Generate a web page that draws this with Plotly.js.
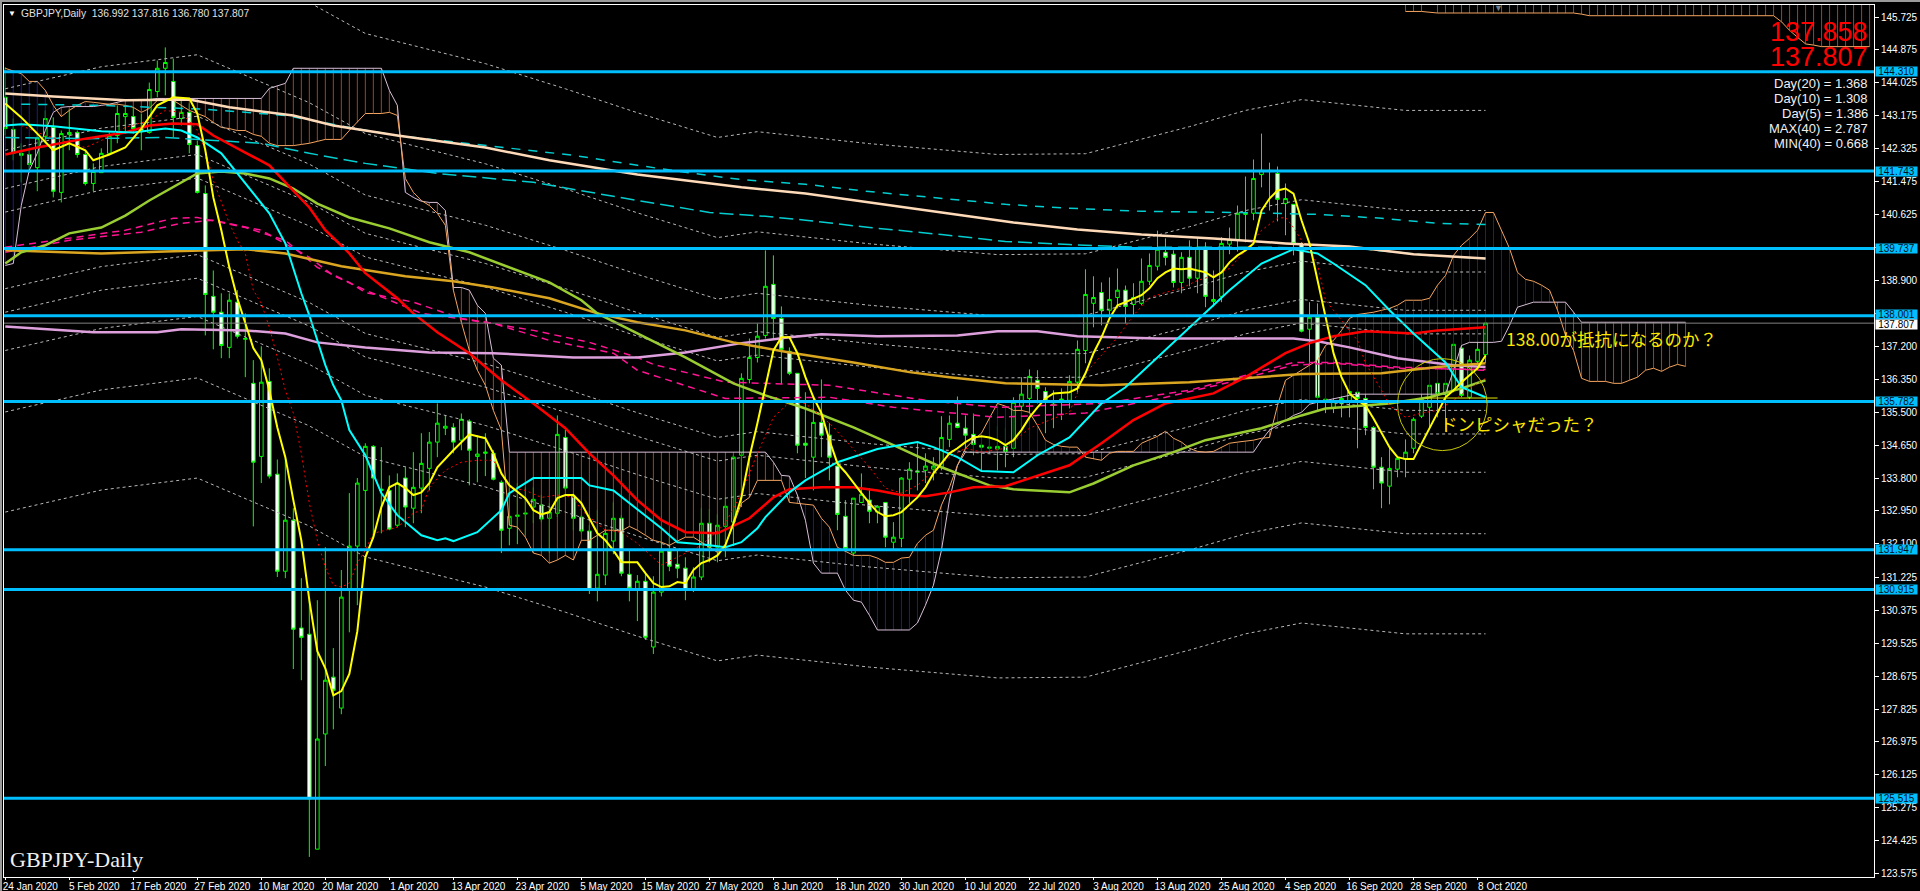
<!DOCTYPE html>
<html><head><meta charset="utf-8">
<script src="https://cdn.plot.ly/plotly-3.0.1.min.js"></script>
<style>html,body{margin:0;padding:0;background:#000;overflow:hidden}#c{width:1920px;height:891px}
#t{position:absolute;left:0;top:0;width:1920px;height:2px;background:#9a9a9a}#l{position:absolute;left:0;top:0;width:2px;height:891px;background:#9a9a9a}</style>
</head><body><div id="c"></div><div id="t"></div><div id="l"></div>
<script>
const high=[144.42,143.10,142.46,142.28,142.71,143.31,143.13,142.79,143.34,142.79,142.28,141.94,142.33,142.74,143.44,143.44,143.39,143.23,144.03,144.60,144.94,144.65,143.57,143.49,142.53,141.37,139.17,138.58,138.58,138.66,138.06,136.85,137.21,136.64,134.28,134.31,133.02,131.21,130.64,130.64,132.01,129.40,131.42,133.41,133.80,134.70,134.65,134.60,133.87,133.92,134.08,134.47,134.96,134.99,135.73,135.42,135.22,135.47,135.32,134.91,134.96,134.52,133.74,133.67,133.67,133.56,133.56,133.36,133.15,135.42,135.06,133.41,132.84,132.58,132.97,132.45,133.17,132.84,131.93,131.29,131.37,131.26,132.45,132.37,131.93,131.75,131.49,133.02,133.00,132.86,133.30,134.39,136.51,137.41,137.80,139.69,139.56,138.24,137.18,136.51,136.02,135.89,136.35,135.22,134.13,133.23,133.28,133.92,133.54,133.10,133.17,132.66,133.82,134.21,134.70,134.44,134.34,135.40,135.42,135.91,135.42,135.47,134.70,134.85,135.14,135.09,135.89,136.41,136.61,136.59,136.15,136.07,136.12,136.46,137.36,139.20,139.02,138.86,138.99,139.22,138.78,138.84,139.48,139.61,140.20,140.00,139.69,139.64,139.95,140.03,139.90,139.17,140.03,140.28,140.85,141.60,142.04,142.71,141.96,141.86,141.42,140.88,139.90,138.35,138.32,136.59,136.25,136.41,136.33,136.25,136.15,135.14,134.34,134.60,134.34,134.80,135.37,136.23,136.48,136.72,136.38,137.31,137.44,136.97,137.39,137.816];
const low=[142.66,142.02,141.45,141.70,141.22,142.46,141.06,140.93,142.28,142.09,141.37,141.22,141.70,142.15,142.46,142.71,142.71,142.28,142.71,143.65,143.70,142.61,142.92,142.20,141.16,137.49,137.13,136.90,136.90,137.41,136.41,132.55,133.67,133.79,131.24,131.21,128.86,128.57,124.00,124.20,126.35,127.30,127.69,129.81,130.51,132.01,132.24,132.37,132.45,132.53,132.53,132.63,132.89,133.48,134.34,134.91,134.44,134.52,133.61,133.69,133.85,133.74,131.86,132.06,132.09,132.32,132.63,132.66,131.86,132.79,133.48,132.45,132.37,130.80,130.61,131.03,131.83,131.26,130.61,130.10,129.61,129.25,130.74,131.39,131.21,130.64,130.85,131.16,131.62,131.62,131.75,132.04,133.05,136.25,136.79,137.41,137.41,136.23,136.46,134.44,133.80,133.48,134.34,133.74,132.45,131.93,131.75,133.15,132.63,132.63,132.01,131.93,132.01,133.15,133.48,133.67,133.74,134.00,134.60,135.09,134.52,134.39,134.00,134.44,134.00,134.08,134.34,135.11,135.22,135.73,134.96,135.09,135.30,135.60,135.99,136.77,137.70,137.75,137.93,138.19,137.80,138.01,138.27,138.79,139.17,139.30,138.73,138.58,138.76,138.58,138.22,138.24,138.35,139.59,139.66,139.90,140.47,141.32,140.72,140.44,140.08,139.56,137.57,136.72,135.55,135.48,135.48,135.37,135.37,134.57,134.91,133.51,133.02,133.12,133.82,133.82,134.44,135.35,135.11,135.37,135.01,136.02,135.89,135.84,136.77,136.78];
const open=[143.65,142.82,142.20,142.17,141.83,142.64,142.87,141.19,142.69,142.74,142.17,141.42,141.70,142.20,142.66,143.15,143.15,142.84,142.74,143.80,144.40,144.06,143.10,143.26,142.40,141.16,138.50,138.09,137.18,138.35,137.39,136.25,134.36,136.30,133.90,131.39,132.71,129.92,129.76,124.20,127.18,128.65,127.85,130.90,132.04,133.48,134.62,133.48,133.48,132.58,133.80,133.02,133.54,134.05,134.73,135.09,135.11,134.78,135.27,134.36,134.44,134.44,133.69,132.50,132.81,132.87,133.05,133.10,132.76,132.89,134.85,133.33,132.79,132.43,130.95,131.29,132.17,132.76,131.31,130.93,131.13,129.43,130.85,131.91,131.57,131.47,130.93,131.24,132.63,132.01,132.55,132.66,134.39,136.35,136.92,137.49,138.81,137.93,137.08,136.51,134.70,134.34,135.24,134.91,134.11,132.81,131.86,133.17,133.23,132.92,133.17,132.14,132.24,133.77,133.95,134.00,134.03,134.08,134.80,135.22,135.09,134.93,134.65,134.57,134.55,134.62,134.57,135.66,135.86,136.33,136.04,135.68,135.81,135.81,136.28,137.10,138.32,138.60,138.14,138.47,138.66,138.29,138.32,138.89,139.28,139.64,139.59,138.86,139.51,138.97,139.77,138.37,138.50,139.85,139.97,140.62,140.65,141.65,141.73,141.68,140.90,140.88,139.87,137.65,137.96,135.79,135.60,135.73,135.79,136.02,135.86,135.11,134.08,133.59,134.03,134.29,134.57,135.40,135.63,136.25,135.97,136.07,137.16,135.89,136.82,136.992];
const close=[142.84,142.20,142.15,141.91,142.59,143.10,141.22,142.71,142.74,142.17,141.42,141.73,142.20,142.66,143.23,143.23,142.84,142.76,143.85,144.40,144.55,143.13,143.26,142.43,141.19,138.55,138.09,137.23,138.40,137.47,137.41,134.21,136.28,133.85,131.39,132.71,129.89,129.68,125.50,127.05,128.57,128.31,130.72,132.04,133.67,134.62,133.80,133.51,132.48,133.67,133.05,133.56,134.18,134.73,135.22,135.14,134.73,135.32,134.52,134.42,134.47,133.77,132.45,132.81,132.84,132.89,133.25,132.74,132.92,134.93,133.54,132.76,132.43,130.90,131.31,132.37,132.76,131.34,130.95,131.13,129.68,130.85,131.91,131.52,131.47,130.90,131.24,132.63,132.01,132.58,133.07,134.34,136.38,136.92,137.47,138.76,137.93,137.13,136.51,134.65,134.65,135.24,134.91,134.34,132.86,131.98,133.28,133.38,132.94,133.07,132.27,132.27,133.80,134.03,133.98,134.11,134.11,134.85,135.22,135.11,134.91,134.67,134.60,134.60,134.62,134.49,135.76,135.97,136.43,136.12,135.79,135.71,135.84,136.30,137.13,138.55,138.47,138.14,138.42,138.66,138.24,138.47,138.89,139.30,139.72,139.51,138.86,139.51,138.97,139.77,138.50,138.42,139.87,139.97,140.65,140.65,141.55,141.76,141.76,141.01,141.03,139.87,137.60,137.96,135.89,135.84,135.79,135.86,136.04,135.86,135.11,134.08,133.67,134.05,134.31,134.47,135.32,135.84,136.20,135.99,136.25,137.26,135.94,136.85,137.13,137.807];

const tickIdx=[0,8,16,24,32,40,48,56,64,72,80,88,96,104,112,120,128,136,144,152,160,168,176,184];
const dateLabels=["24 Jan 2020","5 Feb 2020","17 Feb 2020","27 Feb 2020","10 Mar 2020","20 Mar 2020","1 Apr 2020","13 Apr 2020","23 Apr 2020","5 May 2020","15 May 2020","27 May 2020","8 Jun 2020","18 Jun 2020","30 Jun 2020","10 Jul 2020","22 Jul 2020","3 Aug 2020","13 Aug 2020","25 Aug 2020","4 Sep 2020","16 Sep 2020","28 Sep 2020","8 Oct 2020"];
const priceTicks=[145.725,144.875,144.025,143.175,142.325,141.475,140.625,139.775,138.9,138.05,137.2,136.35,135.5,134.65,133.8,132.95,132.1,131.225,130.375,129.525,128.675,127.825,126.975,126.125,125.275,124.425,123.575];
const priceTickLabels=["145.725","144.875","144.025","143.175","142.325","141.475","140.625","","138.900","","137.200","136.350","135.500","134.650","133.800","132.950","132.100","131.225","130.375","129.525","128.675","127.825","126.975","126.125","125.275","124.425","123.575"];
const levels=[144.31,141.743,139.737,138.001,135.782,131.947,130.915,125.515];
const bidPrice=137.807;
const trendX=[177.5,186.5], trendY=[135.87,135.87];

const yellowX=[0,2,4,6,8,10,11,13,15,17,19,21,23,24,25,26,27,28,29,30,31,32,33,34,35,36,37,38,39,40,41,42,43,44,45,46,47,48,49,50,51,52,53,54,56,58,60,61,62,63,65,66,67,68,69,70,71,72,74,75,76,77,78,79,80,81,82,83,84,85,86,87,88,89,90,91,92,93,94,95,96,97,98,99,100,101,102,103,104,105,106,107,108,109,110,111,112,113,114,115,116,117,118,119,120,121,122,123,124,125,126,127,128,129,130,131,133,134,135,136,137,138,139,140,141,142,143,144,145,146,147,148,149,150,151,152,153,154,155,156,157,158,159,160,161,162,163,164,165,166,167,168,169,170,171,172,173,174,175,176,177,178,179,180,181,182,183,184,185];
const yellowY=[143.49,143.13,142.71,142.28,142.46,142.28,142.02,142.17,142.35,142.84,143.44,143.65,143.62,143.23,142.28,141.06,140.21,139.25,138.45,137.80,137.16,136.85,136.07,135.11,134.34,133.23,132.19,130.64,129.32,128.88,128.18,128.29,128.73,129.84,131.75,132.27,133.05,133.56,133.67,133.54,133.36,133.43,133.67,134.08,134.52,134.93,134.83,134.44,133.92,133.61,133.28,132.97,132.86,132.92,133.28,133.36,133.36,133.15,132.37,132.19,131.93,131.62,131.62,131.62,131.34,131.08,130.98,131.00,131.11,131.08,131.42,131.60,131.68,131.80,132.06,132.63,133.30,134.34,135.22,136.15,137.10,137.44,137.44,137.03,136.41,135.89,135.48,134.78,134.18,133.95,133.67,133.41,133.15,132.92,132.81,132.84,132.92,133.10,133.30,133.56,133.92,134.18,134.44,134.57,134.73,134.85,134.88,134.85,134.78,134.65,134.78,135.04,135.37,135.63,135.86,135.99,136.02,136.12,136.51,137.03,137.44,137.93,138.27,138.35,138.45,138.53,138.71,138.97,139.12,139.22,139.20,139.22,139.17,139.12,138.99,139.12,139.38,139.56,139.69,139.87,140.72,141.03,141.24,141.29,141.16,140.47,139.87,138.91,138.01,137.03,136.41,135.99,135.81,135.68,135.34,134.96,134.60,134.34,134.29,134.29,134.70,135.09,135.50,135.89,136.07,136.28,136.46,136.64,136.97];

const redDotX=[2,4,7,10,12,15,18,20,22,24,25,26,28,29,30,31,32,33,34,35,36,37,38,39,40,41,42,43,44,45,46,48,49,51,52,53,55,57,59,61,62,63,65,67,69,71,72,73,75,77,79,82,87,90,92,94,96,98,100,103,105,108,110,112,114,116,118,120,122,125,128,131,133,135,137,139,141,143,145,147,149,151,153,155,157,159,160,161,162,164,165,167,169,170,172,173,175,177,179,181,183,185];
const redDotY=[142.92,142.74,142.53,142.35,142.53,142.87,143.05,143.31,143.26,142.79,142.28,141.50,140.39,139.95,139.61,138.66,138.32,137.70,136.92,136.07,135.48,134.44,133.15,132.19,131.49,131.03,130.98,131.08,131.60,131.93,132.37,132.48,132.53,132.89,132.97,133.56,134.00,134.21,134.26,134.26,133.92,133.56,133.48,133.30,133.36,133.30,132.97,132.79,132.45,132.40,132.11,131.55,132.06,132.63,133.41,134.44,135.37,135.76,135.73,135.22,134.78,134.08,133.54,133.41,133.61,134.00,134.34,134.57,134.47,134.57,135.09,135.34,135.50,136.51,136.97,137.44,138.01,138.47,138.60,138.71,138.91,139.04,139.22,139.69,140.21,140.52,140.54,140.28,139.95,139.35,138.40,137.88,137.36,136.77,136.07,135.68,135.37,135.48,135.55,135.81,136.12,136.38];

const cyanX=[0,2,6,9,12,16,20,22,24,27,29,31,33,35,37,38,40,41,42,43,45,47,49,52,54,55,56,59,62,63,66,72,73,76,78,80,82,84,87,90,92,94,95,98,100,104,109,114,116,119,122,126,129,133,137,140,144,149,153,157,161,164,166,170,173,176,180,182,185];
const cyanY=[142.92,142.95,142.90,142.84,142.77,142.74,142.84,142.79,142.61,142.20,141.68,141.16,140.65,139.87,138.58,138.01,136.72,136.20,135.81,135.04,134.39,133.41,132.84,132.32,132.19,132.24,132.17,132.40,132.97,133.41,133.80,133.80,133.61,133.48,133.15,132.84,132.50,132.14,132.09,132.01,132.14,132.50,132.79,133.43,133.74,134.21,134.55,134.73,134.60,134.34,133.98,133.95,134.39,134.85,135.73,136.15,136.92,137.88,138.66,139.35,139.72,139.61,139.35,138.79,138.14,137.54,136.79,136.15,135.89];

const redX=[0,4,10,15,18,21,24,26,30,33,35,38,40,43,45,49,51,54,58,62,66,70,73,76,79,82,85,89,93,96,98,102,106,109,112,115,118,121,125,129,133,137,141,145,151,155,160,163,166,170,176,179,185];
const redY=[142.17,142.35,142.58,142.74,142.92,142.97,142.95,142.66,142.22,141.89,141.45,140.80,140.21,139.61,139.10,138.45,138.06,137.57,137.03,136.33,135.73,135.09,134.44,133.87,133.23,132.71,132.40,132.37,132.76,133.30,133.51,133.56,133.56,133.48,133.36,133.33,133.43,133.56,133.59,133.87,134.13,134.70,135.30,135.73,135.99,136.41,137.03,137.29,137.47,137.60,137.54,137.62,137.70];

const greenX=[0,2,5,8,12,15,18,21,24,27,30,33,36,39,43,48,53,58,63,68,72,74,79,85,91,95,100,106,111,117,123,126,133,136,141,146,150,157,162,165,173,178,182,185];
const greenY=[139.35,139.64,139.82,140.13,140.28,140.59,140.98,141.32,141.68,141.73,141.68,141.55,141.29,140.90,140.54,140.26,139.90,139.64,139.25,138.86,138.40,138.06,137.54,136.92,136.25,135.94,135.60,135.11,134.65,134.08,133.61,133.51,133.43,133.66,134.13,134.47,134.78,135.09,135.42,135.60,135.73,135.89,136.12,136.33];

const goldX=[0,4,12,20,30,35,42,50,56,61,68,74,79,85,91,98,106,113,118,125,137,148,157,162,172,179,185];
const goldY=[139.69,139.66,139.61,139.66,139.72,139.61,139.28,139.02,138.89,138.73,138.45,138.06,137.83,137.62,137.31,137.05,136.79,136.54,136.41,136.25,136.20,136.28,136.41,136.49,136.51,136.67,136.77];

const plumX=[0,4,11,19,22,30,35,39,45,53,61,71,79,85,92,98,102,109,119,124,129,134,144,161,164,168,174,181,185];
const plumY=[137.72,137.67,137.57,137.57,137.65,137.62,137.54,137.31,137.18,137.05,137.03,136.92,136.92,137.05,137.29,137.44,137.52,137.47,137.49,137.60,137.60,137.47,137.41,137.41,137.34,137.18,136.90,136.72,136.67];

const peachX=[0,6,15,23,28,36,41,49,60,68,79,92,100,108,117,126,134,142,151,160,168,176,185];
const peachY=[143.75,143.67,143.57,143.59,143.39,143.18,142.92,142.66,142.35,142.02,141.65,141.32,141.16,140.93,140.67,140.41,140.23,140.10,140.00,139.87,139.79,139.59,139.48];

const tealUpX=[2,12,25,35,43,49,61,71,79,85,92,100,108,117,125,133,142,154,164,172,179,185];
const tealUpY=[143.47,143.44,143.34,143.18,142.87,142.66,142.38,142.15,141.89,141.71,141.52,141.40,141.21,141.03,140.88,140.78,140.70,140.67,140.62,140.52,140.39,140.36];
const tealLoX=[0,10,20,32,38,45,54,66,79,88,95,100,108,117,125,133,142,150,158,170,178,185];
const tealLoY=[142.61,142.58,142.61,142.46,142.20,141.94,141.68,141.45,140.98,140.67,140.57,140.47,140.28,140.10,139.92,139.84,139.77,139.77,139.77,139.72,139.56,139.48];

const pinkAX=[0,6,15,21,24,30,35,39,43,45,51,57,66,73,79,81,90,103,115,124,137,148,156,161,166,174,185];
const pinkAY=[139.77,139.95,140.21,140.52,140.54,140.28,139.95,139.25,138.86,138.60,138.35,137.93,137.62,137.31,136.92,136.74,136.28,136.20,135.81,135.63,135.73,136.07,136.51,136.79,136.79,136.67,136.59];
const pinkBX=[0,8,17,22,26,32,38,41,45,52,61,68,76,79,90,103,111,124,135,145,153,161,166,174,185];
const pinkBY=[139.64,139.95,140.16,140.39,140.47,140.21,139.51,139.04,138.66,138.06,137.80,137.36,137.03,136.59,135.86,135.89,135.63,135.37,135.48,135.89,136.28,136.72,136.77,136.64,136.61];

const bandX=[0,12,24,38,45,60,70,79,89,94,108,124,135,142,148,155,162,175,185];
const band1=[146.46,147.03,147.34,146.10,145.30,144.52,143.87,143.25,142.61,142.76,142.45,142.17,142.19,142.56,142.89,143.31,143.59,143.31,143.31];
const band2=[143.87,144.44,144.75,143.51,142.71,141.93,141.28,140.66,140.02,140.17,139.86,139.58,139.60,139.97,140.30,140.72,141.00,140.72,140.72];
const band3=[142.28,142.85,143.16,141.92,141.12,140.34,139.69,139.07,138.43,138.58,138.27,137.99,138.01,138.38,138.71,139.13,139.41,139.13,139.13];
const band4=[141.29,141.86,142.17,140.93,140.13,139.35,138.70,138.08,137.44,137.59,137.28,137.00,137.02,137.39,137.72,138.14,138.42,138.14,138.14];
const band5=[140.68,141.25,141.56,140.32,139.52,138.74,138.09,137.47,136.83,136.98,136.67,136.39,136.41,136.78,137.11,137.53,137.81,137.53,137.53];
const band6=[138.70,139.27,139.58,138.34,137.54,136.76,136.11,135.49,134.85,135.00,134.69,134.41,134.43,134.80,135.13,135.55,135.83,135.55,135.55];
const band7=[138.09,138.66,138.97,137.73,136.93,136.15,135.50,134.88,134.24,134.39,134.08,133.80,133.82,134.19,134.52,134.94,135.22,134.94,134.94];
const band8=[137.10,137.67,137.98,136.74,135.94,135.16,134.51,133.89,133.25,133.40,133.09,132.81,132.83,133.20,133.53,133.95,134.23,133.95,133.95];
const band9=[135.51,136.08,136.39,135.15,134.35,133.57,132.92,132.30,131.66,131.81,131.50,131.22,131.24,131.61,131.94,132.36,132.64,132.36,132.36];
const band10=[132.92,133.49,133.80,132.56,131.76,130.98,130.33,129.71,129.07,129.22,128.91,128.63,128.65,129.02,129.35,129.77,130.05,129.77,129.77];

const spanA=[144.40,144.34,144.26,144.06,144.06,143.83,143.44,143.15,143.31,143.44,143.54,143.52,143.49,143.47,143.47,143.44,143.39,143.26,143.36,143.57,143.57,143.57,143.44,143.31,143.23,143.15,143.00,142.87,142.84,142.79,142.79,142.69,142.64,142.46,142.40,142.40,142.40,142.43,142.46,142.51,142.56,142.56,142.56,142.79,143.00,143.23,143.23,143.23,143.26,143.18,141.55,141.19,140.98,140.85,140.65,140.34,138.66,137.83,137.10,136.59,136.20,135.55,135.04,132.58,132.53,132.27,131.86,131.80,131.60,131.68,131.80,131.68,132.19,132.19,132.32,132.45,132.45,132.43,132.55,132.45,132.32,132.19,132.14,132.06,132.17,132.27,132.27,132.14,132.01,131.88,132.09,132.58,133.15,133.30,133.74,133.74,133.74,133.74,133.17,133.15,133.12,133.10,132.76,132.53,132.01,131.91,131.80,131.80,131.80,131.73,131.62,131.62,131.73,131.75,132.11,132.32,132.45,133.10,133.56,134.13,134.57,134.78,134.96,135.35,135.73,135.66,135.55,135.55,135.50,135.16,134.78,134.67,134.62,134.60,134.60,134.34,134.29,134.26,134.44,134.49,134.49,134.49,134.70,134.78,134.88,135.01,134.83,134.73,134.57,134.49,134.47,134.49,134.60,134.70,134.73,134.75,134.78,134.83,134.85,135.68,136.33,136.46,136.59,136.72,136.85,137.23,137.36,137.62,137.93,138.03,138.06,138.09,138.14,138.19,138.27,138.40,138.40,138.40,138.45,138.79,139.04,139.56,139.82,140.00,140.21,140.67,140.67,140.21,139.74,139.12,138.94,138.89,138.79,138.66,138.14,137.49,137.10,136.38,136.30,136.30,136.30,136.25,136.25,136.33,136.41,136.59,136.64,136.56,136.67,136.74,136.69];
const spanB=[139.30,139.35,140.85,141.76,142.20,142.79,143.26,143.39,143.41,143.41,143.41,143.41,143.44,143.47,143.52,143.57,143.57,143.59,143.59,143.62,143.62,143.62,143.62,143.62,143.62,143.62,143.62,143.62,143.62,143.62,143.62,143.62,143.62,143.88,143.95,144.01,144.40,144.40,144.40,144.40,144.40,144.40,144.40,144.40,144.40,144.40,144.40,144.40,143.83,143.44,141.19,141.06,140.96,140.93,140.93,140.72,138.73,138.73,138.66,138.27,138.06,136.90,136.72,134.47,134.47,134.47,134.47,134.47,134.47,134.47,134.47,134.47,134.47,134.47,134.47,134.47,134.47,134.47,134.47,134.47,134.47,134.47,134.47,134.47,134.47,134.47,134.47,134.47,134.47,134.47,134.47,134.47,134.47,134.47,134.47,134.47,134.21,133.87,133.85,133.36,132.71,131.60,131.34,131.34,131.34,130.90,130.64,130.59,130.25,129.87,129.87,129.87,129.87,129.87,130.05,130.51,131.03,131.93,133.23,134.13,134.47,134.47,134.47,134.47,134.47,134.47,134.47,134.47,134.47,134.47,134.47,134.47,134.47,134.47,134.47,134.47,134.47,134.47,134.47,134.47,134.47,134.47,134.47,134.47,134.47,134.47,134.47,134.47,134.47,134.47,134.47,134.47,134.47,134.47,134.47,134.47,134.47,134.78,135.04,135.16,135.30,135.42,135.50,135.71,135.76,135.81,135.86,135.91,135.94,135.97,135.97,135.97,135.97,135.97,135.97,135.97,135.97,135.97,135.97,135.97,135.97,136.59,137.23,137.31,137.31,137.31,137.31,137.34,137.75,138.22,138.29,138.35,138.35,138.35,138.35,138.35,138.09,137.83,137.83,137.83,137.83,137.83,137.83,137.83,137.83,137.83,137.83,137.83,137.83,137.83,137.83];

const farCloudX=[175,176,177,179,180,181,182,183,184,185,186,187,188,189,190,191,192,193,194,195,196,197,198,199,200,201,202,203,204,205,206,207,208,209,210,211,212,213,214,215,216,217,218,219,220,221,222,223,224,225,226,227,228,229,230,231,232,233];
const farCloudLow=[145.87,145.87,145.87,145.83,145.83,145.83,145.83,145.83,145.83,145.83,145.83,145.83,145.83,145.83,145.83,145.83,145.83,145.83,145.83,145.83,145.83,145.80,145.76,145.76,145.76,145.76,145.76,145.76,145.76,145.76,145.76,145.76,145.76,145.76,145.76,145.76,145.76,145.76,145.76,145.76,145.76,145.76,145.76,145.76,145.76,145.76,145.60,145.38,145.20,145.03,145.00,144.96,144.96,144.96,144.96,144.96,144.96,144.96];
const farCloudTop=146.6;

const levelBoxX=1.0007;
const ln=(x,y,color,width,dash)=>({type:'scatter',mode:'lines',x,y,hoverinfo:'skip',line:{color,width,dash:dash||'solid',shape:'linear'}});
const redHx=[],redHy=[],blueHx=[],blueHy=[];
spanA.forEach((a,i)=>{const b=spanB[i];if(a>=b){blueHx.push(i,i,null);blueHy.push(a,b,null);}else{redHx.push(i,i,null);redHy.push(a,b,null);}});
const farHx=[],farHy=[];
farCloudX.forEach((x,k)=>{farHx.push(x,x,null);farHy.push(farCloudLow[k],farCloudTop,null);});
const spanX=spanA.map((_,i)=>i);
const dots='3px,3px';
const traces=[
 ln(redHx,redHy,'#a0402e',1),
 ln(blueHx,blueHy,'#1c1c8c',1),
 ln(farHx,farHy,'#a0402e',1),
 ln(spanX,spanB,'#d8bfd8',1),
 ln(spanX,spanA,'#f4a460',1),
 ln(farCloudX,farCloudLow,'#f4a460',1),
 ...[band1,band2,band3,band4,band5,band6,band7,band8,band9,band10].map(b=>ln(bandX,b,'#b8b8b8',1,dots)),
 ln(pinkAX,pinkAY,'#ff1493',1.5,'7px,5px'),
 ln(pinkBX,pinkBY,'#ff1493',1.5,'7px,5px'),
 ln(tealUpX,tealUpY,'#00ced1',1.5,'9px,8px'),
 ln(tealLoX,tealLoY,'#00ced1',1.5,'14px,6px'),
 ln(peachX,peachY,'#ffdab9',2.5),
 ln(plumX,plumY,'#dda0dd',2.5),
 ln(goldX,goldY,'#daa520',2.5),
 ln(greenX,greenY,'#9acd32',2.5),
 ln(redX,redY,'#ff0000',2.5),
 ln(cyanX,cyanY,'#00ffff',2),
 ln(redDotX,redDotY,'#ff0000',1,'2px,3px'),
 ln(yellowX,yellowY,'#ffff00',2),
 ...levels.map(v=>ln([-1,235],[v,v],'#00bfff',3)),
 ln([-1,235],[bidPrice,bidPrice],'#808080',1),
 ln(trendX,trendY,'#e6e600',1),
 {type:'candlestick',x:high.map((_,i)=>i),open,high,low,close,hoverinfo:'skip',whiskerwidth:0,
  increasing:{line:{color:'#00ff00',width:1},fillcolor:'#000000'},
  decreasing:{line:{color:'#00ff00',width:1},fillcolor:'#ffffff'}}
];
const sans='"Liberation Sans",Arial,sans-serif';
const cjk='"Noto Sans CJK JP",sans-serif';
const note=(text,x,y,size,color,anchor,family)=>({text,x,y,xref:'x',yref:'y',xanchor:anchor,yanchor:'middle',showarrow:false,borderpad:0,font:{size,color,family:family||sans}});
const box=(v,bg,fg,shift)=>({text:v.toFixed(3),x:levelBoxX,y:v,xref:'paper',yref:'y',yshift:shift||0,xanchor:'left',yanchor:'middle',showarrow:false,bgcolor:bg,borderpad:0,width:41,height:9,font:{size:10,color:fg,family:sans}});
const annotations=[
 note('▼',0.25,145.82,8,'#ffffff','left'),
 note('GBPJPY,Daily  136.992 137.816 136.780 137.807',1.8,145.82,10.3,'#e0e0e0','left'),
 note('▼',186.6,145.97,9,'#708090','center'),
 note('137.858',232.9,145.33,27,'#ff0000','right'),
 note('137.807',232.9,144.70,27,'#ff0000','right'),
 note('Day(20) = 1.368',232.9,144.01,13,'#f0f0f0','right'),
 note('Day(10) = 1.308',232.9,143.62,13,'#f0f0f0','right'),
 note('Day(5) = 1.386',232.9,143.23,13,'#f0f0f0','right'),
 note('MAX(40) = 2.787',232.9,142.84,13,'#f0f0f0','right'),
 note('MIN(40) = 0.668',232.9,142.46,13,'#f0f0f0','right'),
 note('GBPJPY-Daily',0.46,123.94,22,'#f0f0f0','left','"Liberation Serif",serif'),
 note('138.00が抵抗になるのか？',200.7,137.41,17.5,'#ffe600','center',cjk),
 note('ドンピシャだった？',189.2,135.22,17.5,'#ffe600','center',cjk),
 ...levels.map(v=>box(v,'#00bfff','#001018',v===138.001?1:0)),
 box(bidPrice,'#ffffff','#000000',-1)
];
const layout={width:1920,height:891,showlegend:false,paper_bgcolor:'#000',plot_bgcolor:'#000',boxgap:0.36,
 margin:{l:4,r:46.3,t:4.5,b:14,pad:0},
 xaxis:{range:[-0.16,233.55],tickmode:'array',tickvals:tickIdx,ticktext:dateLabels,ticklabelshift:25,ticklabelstandoff:-2,showgrid:false,zeroline:false,
  showline:true,mirror:true,linecolor:'#fff',linewidth:1,ticks:'outside',ticklen:2,tickcolor:'#fff',tickfont:{size:10,color:'#fff',family:sans},
  rangeslider:{visible:false},fixedrange:true},
 yaxis:{range:[123.48,146.037],side:'right',tickmode:'array',tickvals:priceTicks,ticktext:priceTickLabels,showgrid:false,zeroline:false,
  showline:true,mirror:true,linecolor:'#fff',linewidth:1,ticks:'outside',ticklen:4,tickcolor:'#fff',tickfont:{size:10,color:'#fff',family:sans},fixedrange:true},
 annotations,
 shapes:[{type:'circle',xref:'x',yref:'y',x0:174,x1:185.2,y0:134.51,y1:136.89,line:{color:'#c8c800',width:1}}]
};
Plotly.newPlot('c',traces,layout,{displayModeBar:false,staticPlot:true});
</script>
</body></html>
